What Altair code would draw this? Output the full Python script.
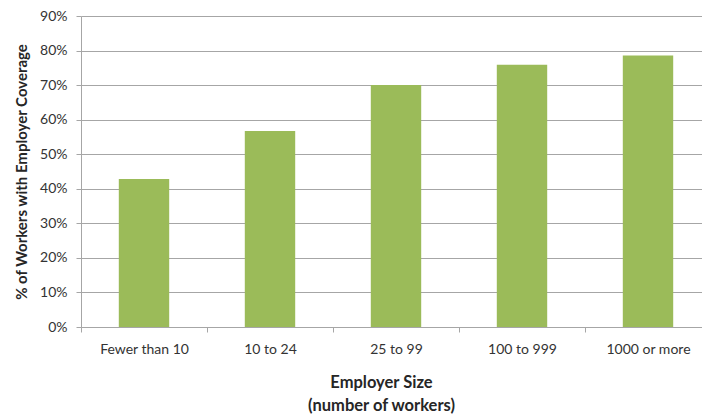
import altair as alt
import pandas as pd

categories = ["Fewer than 10", "10 to 24", "25 to 99", "100 to 999", "1000 or more"]
values = [0.428, 0.567, 0.700, 0.759, 0.786]
y_ticks = [0, 0.1, 0.2, 0.3, 0.4, 0.5, 0.6, 0.7, 0.8, 0.9]

df = pd.DataFrame({"size": categories, "share": values})

FONT = "Lato"
GRID = "#A6A6A6"

chart = alt.Chart(df).mark_bar(
    color="#9BBB59", width=alt.RelativeBandSize(0.4)
).encode(
    x=alt.X(
        "size:N",
        sort=categories,
        scale=alt.Scale(paddingInner=0, paddingOuter=0),
        axis=alt.Axis(
            title=["Employer Size", "(number of workers)"],
            labelAngle=0,
            labelFont=FONT,
            labelFontSize=14,
            labelColor="#333333",
            labelPadding=10,
            tickBand="extent",
            tickSize=5,
            tickColor=GRID,
            domainColor=GRID,
            titleFont=FONT,
            titleFontSize=16.5,
            titleFontWeight="bold",
            titleColor="#262626",
            titleLineHeight=23,
            titleAnchor="start",
            titleAlign="center",
            titleBaseline="top",
            titleX=300,
            titleY=47,
        ),
    ),
    y=alt.Y(
        "share:Q",
        scale=alt.Scale(domain=[0, 0.9], nice=False),
        axis=alt.Axis(
            title="% of Workers with Employer Coverage",
            values=y_ticks,
            format=".0%",
            labelFont=FONT,
            labelFontSize=14,
            labelColor="#333333",
            labelPadding=9,
            tickSize=5,
            tickColor=GRID,
            domainColor=GRID,
            gridColor=GRID,
            titleFont=FONT,
            titleFontSize=15,
            titleFontWeight="bold",
            titleColor="#262626",
            titleAngle=-90,
            titleAlign="center",
            titleBaseline="middle",
            titleX=-60,
            titleY=155.5,
        ),
    ),
).properties(
    width=630,
    height=311,
    autosize=alt.AutoSizeParams(type="none"),
    padding={"left": 73, "top": 8, "right": -9, "bottom": 89},
).configure_view(stroke=None).configure_axisX(grid=False)

chart.save("out.html", embed_options={"renderer": "svg", "actions": False})
